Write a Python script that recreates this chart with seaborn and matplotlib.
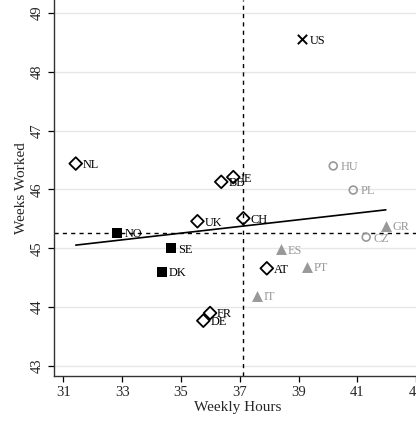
import numpy as np
import pandas as pd
import seaborn as sns
import matplotlib.pyplot as plt

# country, weekly hours, weeks worked, regime group
countries = ['NL', 'BE', 'IE', 'UK', 'CH', 'AT', 'FR', 'DE',
             'NO', 'SE', 'DK',
             'US',
             'HU', 'PL', 'CZ',
             'GR', 'ES', 'PT', 'IT']
weekly_hours = [31.42, 36.37, 36.78, 35.56, 37.12, 37.92, 35.99, 35.76,
                32.84, 34.66, 34.36,
                39.13,
                40.18, 40.86, 41.30,
                41.97, 38.39, 39.28, 37.58]
weeks_worked = [46.44, 46.13, 46.21, 45.46, 45.51, 44.66, 43.90, 43.77,
                45.26, 45.00, 44.60,
                48.55,
                46.40, 45.99, 45.19,
                45.38, 44.98, 44.69, 44.19]
groups = ['continental'] * 8 + ['nordic'] * 3 + ['us'] + ['eastern'] * 3 + ['southern'] * 4

mean_hours = 37.12
mean_weeks = 45.26

x_ticks = [31, 33, 35, 37, 39, 41, 43]
y_ticks = [43, 44, 45, 46, 47, 48, 49]

df = pd.DataFrame({'country': countries, 'hours': weekly_hours,
                   'weeks': weeks_worked, 'group': groups})

gray = '#999999'
styles = {
    'continental': dict(marker='D', s=42, facecolor='none', edgecolor='black', linewidth=1.3),
    'nordic': dict(marker='s', s=50, color='black', edgecolor='black', linewidth=0),
    'us': dict(marker='x', s=45, color='black', linewidth=1.4),
    'eastern': dict(marker='o', s=32, facecolor='none', edgecolor=gray, linewidth=1.2),
    'southern': dict(marker='^', s=62, color=gray, edgecolor=gray, linewidth=0),
}
text_colors = {'continental': 'black', 'nordic': 'black', 'us': 'black',
               'eastern': gray, 'southern': gray}

sns.set_style('white')
plt.rcParams['font.family'] = ['Liberation Serif', 'DejaVu Serif']

fig = plt.figure(figsize=(4.16, 4.22), dpi=100)
ax = fig.add_axes([53.7 / 416, 1 - 376 / 422, (422 - 53.7) / 416, 376 / 422])

ax.set_xlim(30.67, 43.2)
ax.set_ylim(42.83, 49.22)

for y in y_ticks:
    ax.axhline(y, color='#e6e6e6', linewidth=1.0, zorder=0)

ax.axvline(mean_hours, color='black', linestyle=(0, (3, 3)), linewidth=1.0, zorder=1)
ax.axhline(mean_weeks, color='black', linestyle=(0, (3, 3)), linewidth=1.0, zorder=1)

# linear fit over all countries
sns.regplot(data=df, x='hours', y='weeks', ci=None, scatter=False, ax=ax,
            line_kws=dict(color='black', linewidth=1.2), truncate=True)

for g, sub in df.groupby('group'):
    sns.scatterplot(data=sub, x='hours', y='weeks', ax=ax, zorder=3, **styles[g])
    for _, r in sub.iterrows():
        ax.annotate(r['country'], (r['hours'], r['weeks']), xytext=(5, -1),
                    textcoords='offset points', va='center', ha='left',
                    fontsize=8.8, color=text_colors[g], zorder=4)

ax.set_xticks(x_ticks)
ax.set_yticks(y_ticks)
ax.tick_params(axis='both', labelsize=10.5, length=4, width=0.9, color='black',
               direction='out', bottom=True, left=True, pad=3)
for lab in ax.get_yticklabels():
    lab.set_rotation(90)
    lab.set_va('center')
ax.set_xlabel('Weekly Hours', fontsize=11, labelpad=2)
ax.set_ylabel('Weeks Worked', fontsize=11, labelpad=2)

for side in ['top', 'right']:
    ax.spines[side].set_visible(False)
for side in ['left', 'bottom']:
    ax.spines[side].set_color('#333333')
    ax.spines[side].set_linewidth(1.0)

fig.savefig('out.png', dpi=100)
